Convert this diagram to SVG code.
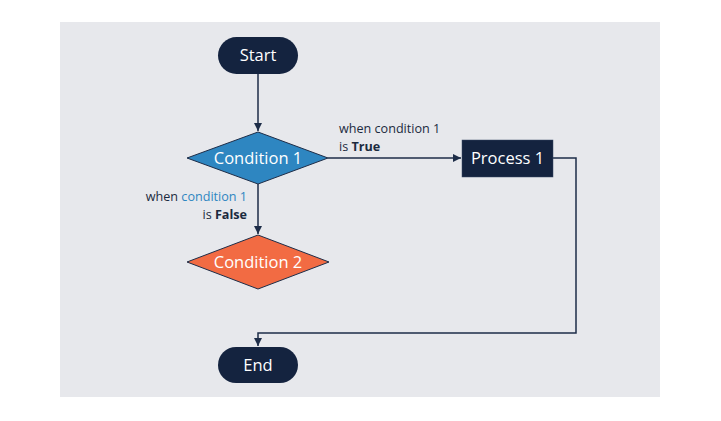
<svg xmlns="http://www.w3.org/2000/svg" width="721" height="421" viewBox="0 0 721 421">
<defs>
<marker id="arr" viewBox="0 0 10 10" refX="10" refY="5" markerWidth="8" markerHeight="8" markerUnits="userSpaceOnUse" orient="auto">
<path d="M0,0 L10,5 L0,10 z" fill="#1e2d48"/>
</marker>
<style>
.t{font-family:"Open Sans","Liberation Sans",sans-serif;font-size:16.5px;fill:#ffffff;text-anchor:middle;dominant-baseline:central}
.l{font-family:"Open Sans","Liberation Sans",sans-serif;font-size:12.6px;fill:#1b2a3e}
.c{fill:none;stroke:#1e2d48;stroke-width:1.5}
.dark{fill:#14233f}
</style>
</defs>
<rect x="0" y="0" width="721" height="421" fill="#ffffff"/>
<rect x="60" y="22" width="600" height="375" fill="#e7e8ec"/>
<g id="connectors">
<path class="c" d="M258,74 L258,131" marker-end="url(#arr)"/>
<path class="c" d="M328,158 L461,158" marker-end="url(#arr)"/>
<path class="c" d="M258,184 L258,234" marker-end="url(#arr)"/>
<path class="c" d="M553,158 L576,158 L576,333 L258,333 L258,346" marker-end="url(#arr)"/>
</g>
<g id="labels">
<text class="l" x="339" y="133">when condition 1</text>
<text class="l" x="339" y="151">is <tspan font-weight="bold">True</tspan></text>
<text class="l" x="247" y="201" text-anchor="end">when <tspan fill="#2e86c1">condition 1</tspan></text>
<text class="l" x="247" y="219" text-anchor="end">is <tspan font-weight="bold">False</tspan></text>
</g>
<g id="start">
<rect class="dark" x="218" y="37" width="80" height="37" rx="18.5"/>
<text class="t" x="258" y="54.5">Start</text>
</g>
<g id="condition1">
<polygon points="258,132 328,158 258,184 187,158" fill="#2e86c1" stroke="#1e2d48" stroke-width="1"/>
<text class="t" x="258" y="157">Condition 1</text>
</g>
<g id="process1">
<rect class="dark" x="462" y="140" width="91" height="37" stroke="#3a4a66" stroke-width="0.5"/>
<text class="t" x="507.5" y="157.5">Process 1</text>
</g>
<g id="condition2">
<polygon points="258,235 329,262 258,289 187,262" fill="#f26b43" stroke="#1e2d48" stroke-width="1"/>
<text class="t" x="258" y="261">Condition 2</text>
</g>
<g id="end">
<rect class="dark" x="218" y="347" width="80" height="36" rx="18"/>
<text class="t" x="258" y="364">End</text>
</g>
</svg>
